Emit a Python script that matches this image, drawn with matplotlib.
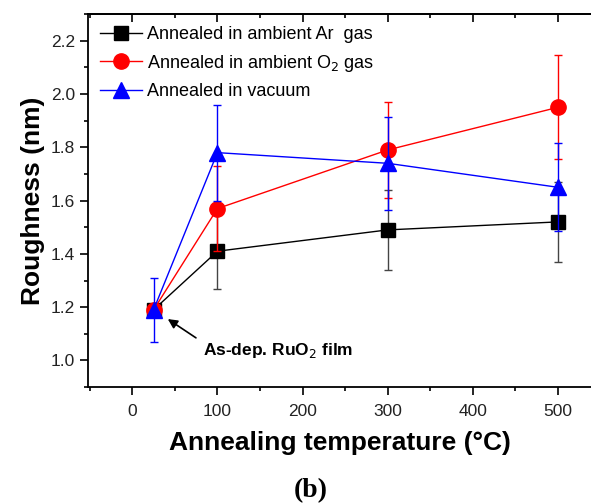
import numpy as np
import matplotlib.pyplot as plt
from matplotlib.ticker import MultipleLocator

plt.rcParams['font.family'] = ['Liberation Sans', 'DejaVu Sans']

temps = [25, 100, 300, 500]
rough_ar = [1.19, 1.41, 1.49, 1.52]
err_ar = [0.0, 0.14, 0.15, 0.15]
rough_o2 = [1.19, 1.57, 1.79, 1.95]
err_o2 = [0.0, 0.16, 0.18, 0.195]
rough_vac = [1.19, 1.78, 1.74, 1.65]
err_vac = [0.12, 0.18, 0.175, 0.165]

fig = plt.figure(figsize=(5.91, 5.04), dpi=100)
ax = fig.add_axes([0.149, 0.232, 0.851, 0.740])

c1 = ax.errorbar(temps, rough_ar, yerr=err_ar, color='black', ecolor='#444444', elinewidth=1, capsize=3,
                 lw=1, marker='s', ms=10, mec='black', zorder=3)
c2 = ax.errorbar(temps, rough_o2, yerr=err_o2, color='red', ecolor='red', elinewidth=1, capsize=3,
                 lw=1, marker='o', ms=11, zorder=4)
c3 = ax.errorbar(temps, rough_vac, yerr=err_vac, color='blue', ecolor='blue', elinewidth=1, capsize=3,
                 lw=1, marker='^', ms=12, zorder=5)

ax.set_xlim(-52, 539)
ax.set_ylim(0.9, 2.3)
ax.xaxis.set_major_locator(MultipleLocator(100))
ax.xaxis.set_minor_locator(MultipleLocator(50))
ax.yaxis.set_major_locator(MultipleLocator(0.2))
ax.yaxis.set_minor_locator(MultipleLocator(0.1))
ax.yaxis.set_major_formatter(plt.FormatStrFormatter('%.1f'))
ax.tick_params(which='major', length=6, width=1.2, labelsize=12.5, labelcolor='#222222')
ax.tick_params(axis='x', which='major', pad=6)
ax.tick_params(which='minor', length=3, width=1.2)
ax.spines['right'].set_visible(False)
for s in ['left', 'bottom', 'top']:
    ax.spines[s].set_linewidth(1.3)

top = ax.secondary_xaxis('top')
top.xaxis.set_major_locator(MultipleLocator(100))
top.xaxis.set_minor_locator(MultipleLocator(50))
top.tick_params(which='major', direction='in', length=6, width=1.2, labeltop=False)
top.tick_params(which='minor', direction='in', length=3, width=1.2)
top.spines['top'].set_linewidth(1.3)

ax.set_xlabel('Annealing temperature (\u00b0C)', fontsize=19, fontweight='bold', labelpad=9)
ax.set_ylabel('Roughness (nm)', fontsize=19, fontweight='bold', labelpad=4)

labels = ['Annealed in ambient Ar  gas', 'Annealed in ambient O$_2$ gas', 'Annealed in vacuum']
ax.legend([c1.lines[0], c2.lines[0], c3.lines[0]], labels, loc='upper left', frameon=False,
          fontsize=13, handlelength=2.3, handletextpad=0.3, borderaxespad=0,
          borderpad=0, labelspacing=0.53, bbox_to_anchor=(12 / 503, 1 - 12 / 373))

ax.annotate('', xy=(39, 1.161), xytext=(77.5, 1.079),
            arrowprops=dict(arrowstyle='-|>', color='black', lw=1.2, mutation_scale=14))
ax.text(83, 1.022, 'As-dep. RuO$_2$ film', fontsize=12.5, fontweight='bold', va='baseline')

fig.text(0.526, 0.026, '(b)', fontsize=20, fontweight='bold', family='Liberation Serif',
         ha='center', va='center')

fig.savefig('out.png', dpi=100)
